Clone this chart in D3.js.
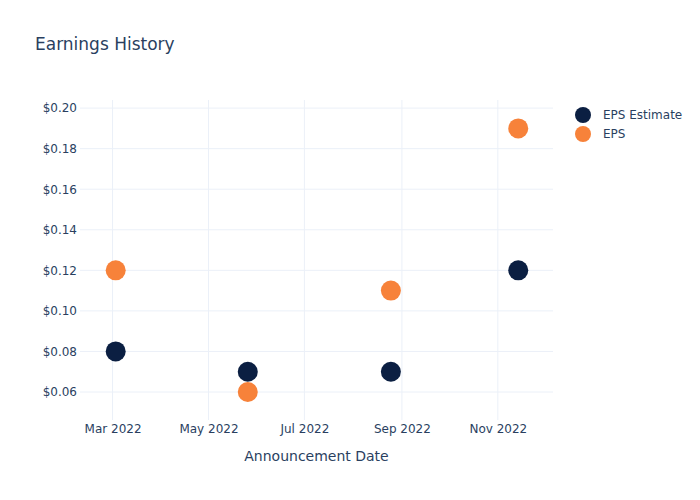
<!DOCTYPE html>
<html><head><meta charset="utf-8">
<script src="https://cdn.jsdelivr.net/npm/d3@7"></script>
<style>body{margin:0;background:#fff}svg{font-family:"DejaVu Sans",Verdana,sans-serif}</style>
</head><body><svg id="c" width="700" height="500"></svg>
<script>
const dates = ["2022-03-03","2022-05-26","2022-08-25","2022-11-14"];
const epsEstimate = [0.08,0.07,0.07,0.12];
const eps = [0.12,0.06,0.11,0.19];
const seriesNames = ["EPS Estimate","EPS"];
const seriesColors = ["#0b1f42","#f7823a"];
const xTicks = ["2022-03-01","2022-05-01","2022-07-01","2022-09-01","2022-11-01"];
const yTicks = [0.06,0.08,0.10,0.12,0.14,0.16,0.18,0.20];

const parse = d3.utcParse("%Y-%m-%d");
const svg = d3.select("#c");
const L=81,R=554,T=101,B=421;
const x = d3.scaleUtc().domain([new Date(Date.UTC(2022,1,8,22,30)), new Date(Date.UTC(2022,11,6,17,30))]).range([L,R]);
const y = d3.scaleLinear().domain([0.0457,0.2035]).range([B,T]);
const txt="#2a3f5f", grid="#ebf0f8";

svg.append("text").attr("x",35).attr("y",50).attr("font-size",17).attr("fill",txt).text("Earnings History");

// grid
const g=svg.append("g");
g.selectAll(".yg").data(yTicks).join("line").attr("x1",L-1).attr("x2",R-1)
 .attr("y1",d=>y(d)).attr("y2",d=>y(d)).attr("stroke",grid).attr("stroke-width",1);
g.selectAll(".xg").data(xTicks.map(parse)).join("line").attr("y1",T-1).attr("y2",B-1)
 .attr("x1",d=>x(d)).attr("x2",d=>x(d)).attr("stroke",grid).attr("stroke-width",1);

// axes
const ya=svg.append("g").attr("transform",`translate(${L-2},0)`)
 .call(d3.axisLeft(y).tickValues(yTicks).tickFormat(d3.format("$.2f")).tickSize(0).tickPadding(2));
ya.select(".domain").remove();
ya.selectAll("text").attr("font-size",12).attr("fill",txt).attr("font-family","DejaVu Sans");
const xa=svg.append("g").attr("transform",`translate(0,${B-1})`)
 .call(d3.axisBottom(x).tickValues(xTicks.map(parse)).tickFormat(d3.utcFormat("%b %Y")).tickSize(0).tickPadding(4));
xa.select(".domain").remove();
xa.selectAll("text").attr("font-size",12).attr("fill",txt).attr("font-family","DejaVu Sans");

svg.append("text").attr("x",(L+R)/2-1).attr("y",461).attr("text-anchor","middle")
 .attr("font-size",14).attr("fill",txt).text("Announcement Date");

// points
[epsEstimate,eps].forEach((vals,i)=>{
  svg.append("g").selectAll("circle").data(vals).join("circle")
   .attr("cx",(d,j)=>x(parse(dates[j]))).attr("cy",d=>y(d)).attr("r",10)
   .attr("fill",seriesColors[i]);
});

// legend
const lg=svg.append("g");
seriesNames.forEach((n,i)=>{
  lg.append("circle").attr("cx",583).attr("cy",115+i*19).attr("r",8).attr("fill",seriesColors[i]);
  lg.append("text").attr("x",603).attr("y",119+i*19).attr("font-size",12).attr("fill",txt).text(n);
});
</script></body></html>
